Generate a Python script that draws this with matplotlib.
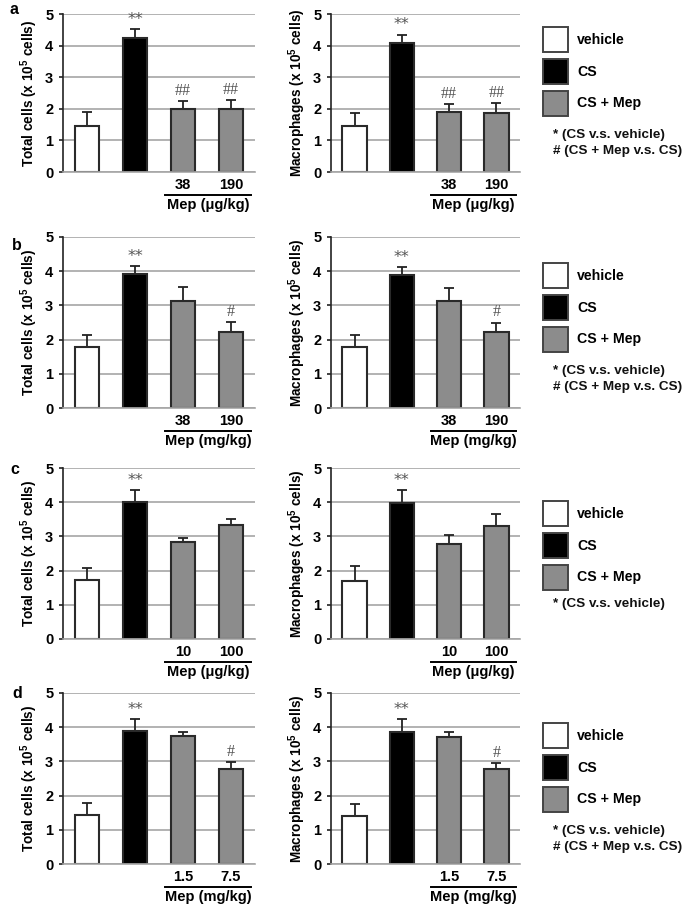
import matplotlib
matplotlib.use("Agg")
import matplotlib.pyplot as plt
from matplotlib.patches import Rectangle

plt.rcParams['font.family'] = ['Liberation Sans', 'DejaVu Sans']
plt.rcParams['font.weight'] = 'bold'
plt.rcParams['mathtext.fontset'] = 'custom'
plt.rcParams['mathtext.rm'] = 'Liberation Sans:bold'
plt.rcParams['mathtext.bf'] = 'Liberation Sans:bold'

# ---------------- data ----------------
panel_ids = ['a', 'b', 'c', 'd']
groups = ['vehicle', 'CS', 'CS + Mep', 'CS + Mep']
dose_labels = [['38', '190'], ['38', '190'], ['10', '100'], ['1.5', '7.5']]
dose_units = ['Mep (μg/kg)', 'Mep (mg/kg)', 'Mep (μg/kg)', 'Mep (mg/kg)']

total_a = [1.47, 4.25, 1.99, 1.98]
total_a_err = [0.44, 0.28, 0.25, 0.31]
macro_a = [1.46, 4.07, 1.89, 1.87]
macro_a_err = [0.42, 0.28, 0.25, 0.32]

total_b = [1.77, 3.91, 3.14, 2.21]
total_b_err = [0.36, 0.23, 0.39, 0.30]
macro_b = [1.77, 3.90, 3.13, 2.21]
macro_b_err = [0.36, 0.23, 0.39, 0.29]

total_c = [1.72, 4.00, 2.83, 3.32]
total_c_err = [0.35, 0.35, 0.11, 0.19]
macro_c = [1.71, 3.99, 2.78, 3.29]
macro_c_err = [0.41, 0.36, 0.25, 0.37]

total_d = [1.42, 3.88, 3.73, 2.77]
total_d_err = [0.35, 0.37, 0.13, 0.20]
macro_d = [1.41, 3.87, 3.71, 2.77]
macro_d_err = [0.35, 0.37, 0.14, 0.19]

sig_a = ['', '**', '##', '##']
sig_b = ['', '**', '', '#']
sig_c = ['', '**', '', '']
sig_d = ['', '**', '', '#']

legend_labels = ['vehicle', 'CS', 'CS + Mep']
note_star = '* (CS v.s. vehicle)'
note_hash = '# (CS + Mep v.s. CS)'
show_hash_note = [True, True, False, True]

total_vals = [total_a, total_b, total_c, total_d]
total_errs = [total_a_err, total_b_err, total_c_err, total_d_err]
macro_vals = [macro_a, macro_b, macro_c, macro_d]
macro_errs = [macro_a_err, macro_b_err, macro_c_err, macro_d_err]
sigs = [sig_a, sig_b, sig_c, sig_d]

# ---------------- layout ----------------
W, H = 685, 907
fig = plt.figure(figsize=(W / 100, H / 100), dpi=100)

bar_colors = ['white', 'black', '#8c8c8c', '#8c8c8c']
edge = '#2a2a2a'

# (top, bottom) pixel rows of each panel's axes
rows = [(14, 172), (237, 408), (468, 639), (693, 864)]
cols = [(63, 255), (331, 520)]
legend_tops = [27, 263, 501, 723]
ylabels = [r'Total cells (x 10$^{5}$ cells)', r'Macrophages (x 10$^{5}$ cells)']
letter_pos = [(10, 10), (12, 245), (10, 470), (12, 693)]


def px_rect(x0, x1, yt, yb):
    return [x0 / W, 1 - yb / H, (x1 - x0) / W, (yb - yt) / H]


for r in range(4):
    yt, yb = rows[r]
    hpx = yb - yt
    for c in range(2):
        x0, x1 = cols[c]
        ax = fig.add_axes(px_rect(x0, x1, yt, yb))
        vals = total_vals[r] if c == 0 else macro_vals[r]
        errs = total_errs[r] if c == 0 else macro_errs[r]
        xs = list(range(len(vals)))
        ax.set_axisbelow(True)
        ax.bar(xs, vals, width=0.52, color=bar_colors, edgecolor=edge,
               linewidth=1.5, zorder=2)
        ax.errorbar(xs, vals, yerr=[[0] * len(errs), errs], fmt='none',
                    ecolor='#222222', elinewidth=1.3, capsize=3.5,
                    capthick=1.3, zorder=1)
        for i, s in enumerate(sigs[r]):
            if s:
                fam = 'Liberation Serif' if s.startswith('#') else 'DejaVu Sans'
                ax.annotate(s, (xs[i], vals[i] + errs[i]), xytext=(0, 1.5),
                            textcoords='offset points', ha='center', va='bottom',
                            fontsize=11.5, color='#555555', fontweight='normal',
                            family=fam)
        ax.set_xlim(-0.5, 3.5)
        ax.set_ylim(0, 5)
        ax.set_yticks([0, 1, 2, 3, 4, 5])
        ax.yaxis.grid(True, color='#a6a6a6', linewidth=1.2)
        for sp in ['top', 'right']:
            ax.spines[sp].set_visible(False)
        ax.spines['left'].set_color('#222222')
        ax.spines['left'].set_linewidth(1.2)
        ax.spines['bottom'].set_color('#a6a6a6')
        ax.spines['bottom'].set_linewidth(1.2)
        ax.tick_params(axis='y', length=3, width=1.2, color='#222222',
                       labelsize=10.5, pad=4)
        ax.set_xticks([2, 3])
        ax.set_xticklabels(dose_labels[r], fontsize=10.5, fontweight='bold')
        ax.tick_params(axis='x', length=0, pad=4)
        for lab in ax.get_yticklabels():
            lab.set_fontweight('bold')
        ax.set_ylabel(ylabels[c], fontsize=9.8, fontweight='bold', va='center')
        ax.yaxis.set_label_coords(-34 / (x1 - x0), 0.5)
        # bracket + unit
        ly = -23 / hpx
        ax.plot([1.62, 3.42], [ly, ly], transform=ax.get_xaxis_transform(),
                color='black', linewidth=1.4, clip_on=False)
        ax.text(2.52, -33 / hpx, dose_units[r], transform=ax.get_xaxis_transform(),
                ha='center', va='center', fontsize=10.5, fontweight='bold')
    # panel letter
    lx, ly_ = letter_pos[r]
    fig.text(lx / W, 1 - ly_ / H, panel_ids[r], fontsize=11.5, fontweight='bold',
             ha='left', va='center')
    # legend
    top = legend_tops[r]
    for k, lab in enumerate(legend_labels):
        bt = top + k * 32
        fig.patches.append(Rectangle((543 / W, 1 - (bt + 25) / H), 25 / W, 25 / H,
                                     transform=fig.transFigure,
                                     facecolor=bar_colors[k], edgecolor='#444444',
                                     linewidth=1.4))
        fig.text(577 / W, 1 - (bt + 12.5) / H, lab, fontsize=10.2,
                 fontweight='bold', ha='left', va='center')
    ny = top + 3 * 32 + 12 if show_hash_note[r] else top + 3 * 32 + 7
    fig.text(553 / W, 1 - ny / H, note_star, fontsize=9.7, fontweight='bold',
             ha='left', va='center', color='#111111')
    if show_hash_note[r]:
        fig.text(553 / W, 1 - (ny + 16) / H, note_hash, fontsize=9.7,
                 fontweight='bold', ha='left', va='center', color='#111111')

fig.savefig('out.png', dpi=100)
